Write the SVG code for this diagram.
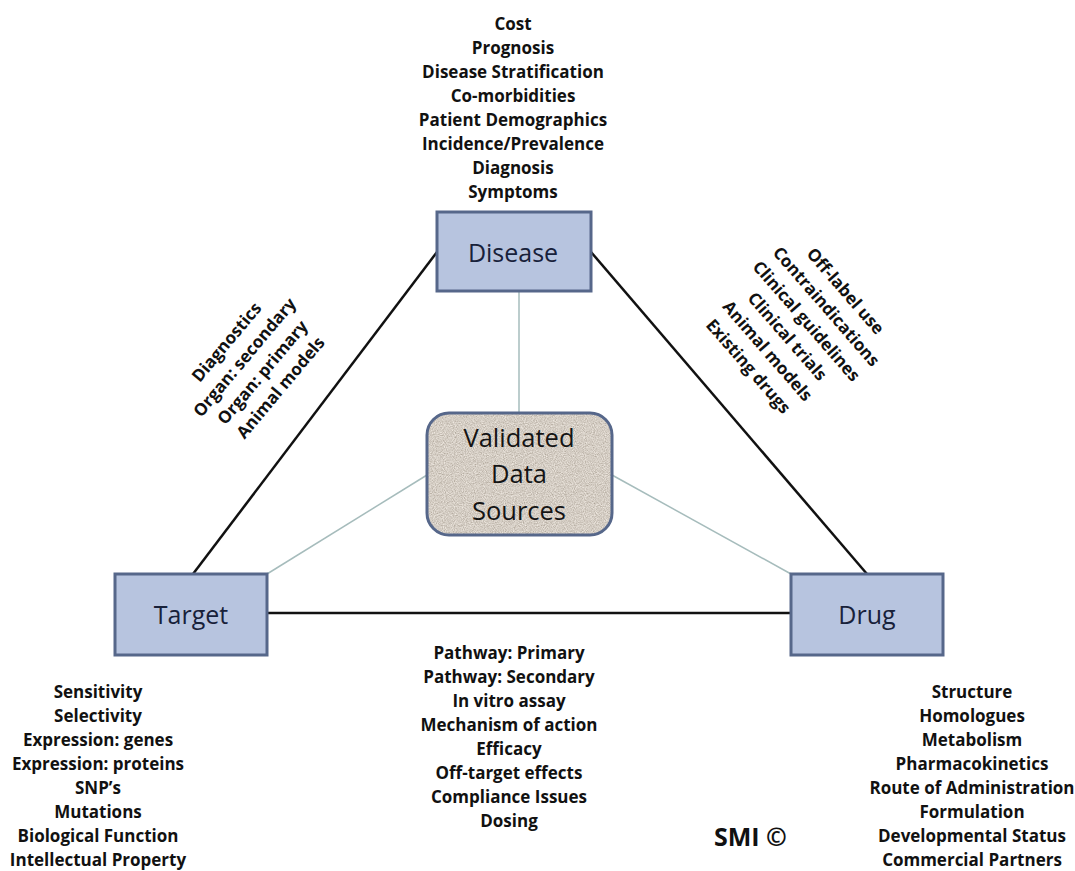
<svg xmlns="http://www.w3.org/2000/svg" width="1075" height="871" viewBox="0 0 1075 871">
<style>
.box{fill:#b7c4df;stroke:#56678a;stroke-width:3}
.lbl{font-family:"Open Sans","Liberation Sans",sans-serif;font-size:25px;fill:#18213a;text-anchor:middle}
.vlbl{font-family:"Open Sans","Liberation Sans",sans-serif;font-size:25.5px;fill:#141414;text-anchor:middle}
.t{font-family:"Open Sans","Liberation Sans",sans-serif;font-size:17px;font-weight:bold;fill:#111111;text-anchor:middle}
.main{stroke:#111;stroke-width:2.5;fill:none}
.thin{stroke:#a6bcbc;stroke-width:1.5;fill:none}
</style>
<defs>
<filter id="granite" x="0" y="0" width="100%" height="100%">
<feTurbulence type="fractalNoise" baseFrequency="0.9" numOctaves="2" seed="7" result="n"/>
<feColorMatrix in="n" type="matrix" values="0.6 0 0 0 0.36  0.6 0 0 0 0.31  0.6 0 0 0 0.25  0 0 0 0 1" result="c"/>
<feComposite in="c" in2="SourceGraphic" operator="in"/>
</filter>
</defs>
<rect width="1075" height="871" fill="#ffffff"/>
<g id="connectors">
<line class="main" x1="437" y1="252" x2="193" y2="574"/>
<line class="main" x1="591" y1="252" x2="867" y2="574"/>
<line class="main" x1="267" y1="613" x2="791" y2="613"/>
<line class="thin" x1="519" y1="292" x2="519" y2="413"/>
<line class="thin" x1="427" y1="475" x2="267" y2="574"/>
<line class="thin" x1="612" y1="475" x2="791" y2="574"/>
</g>
<g id="edge-labels">
<g transform="translate(231,346) rotate(-50)">
<text class="t" x="0" y="0">Diagnostics</text>
<text class="t" x="0" y="23.5">Organ: secondary</text>
<text class="t" x="0" y="47">Organ: primary</text>
<text class="t" x="0" y="70.5">Animal models</text>
</g>
<g transform="translate(841,295) rotate(49)">
<text class="t" x="0" y="0">Off-label use</text>
<text class="t" x="-1" y="24.5">Contraindications</text>
<text class="t" x="-3" y="49">Clinical guidelines</text>
<text class="t" x="-4" y="73.5">Clinical trials</text>
<text class="t" x="-6" y="98">Animal models</text>
<text class="t" x="-7" y="122.5">Existing drugs</text>
</g>
<g id="target-drug-label">
<text class="t" x="509" y="659">Pathway: Primary</text>
<text class="t" x="509" y="683">Pathway: Secondary</text>
<text class="t" x="509" y="707">In vitro assay</text>
<text class="t" x="509" y="731">Mechanism of action</text>
<text class="t" x="509" y="755">Efficacy</text>
<text class="t" x="509" y="779">Off-target effects</text>
<text class="t" x="509" y="803">Compliance Issues</text>
<text class="t" x="509" y="827">Dosing</text>
</g>
</g>
<g id="disease">
<rect class="box" x="437" y="212" width="154" height="79"/>
<text class="lbl" x="513" y="262">Disease</text>
<g>
<text class="t" x="513" y="30">Cost</text>
<text class="t" x="513" y="54">Prognosis</text>
<text class="t" x="513" y="78">Disease Stratification</text>
<text class="t" x="513" y="102">Co-morbidities</text>
<text class="t" x="513" y="126">Patient Demographics</text>
<text class="t" x="513" y="150">Incidence/Prevalence</text>
<text class="t" x="513" y="174">Diagnosis</text>
<text class="t" x="513" y="198">Symptoms</text>
</g>
</g>
<g id="validated">
<rect x="427" y="413" width="185" height="122" rx="22" fill="#a89c8c" filter="url(#granite)"/>
<rect x="427" y="413" width="185" height="122" rx="22" fill="none" stroke="#56678a" stroke-width="3"/>
<text class="vlbl" x="519" y="447">Validated</text>
<text class="vlbl" x="519" y="483">Data</text>
<text class="vlbl" x="519" y="520">Sources</text>
</g>
<g id="target">
<rect class="box" x="115" y="574" width="152" height="81"/>
<text class="lbl" x="191" y="624">Target</text>
<g>
<text class="t" x="98" y="698">Sensitivity</text>
<text class="t" x="98" y="722">Selectivity</text>
<text class="t" x="98" y="746">Expression: genes</text>
<text class="t" x="98" y="770">Expression: proteins</text>
<text class="t" x="98" y="794">SNP’s</text>
<text class="t" x="98" y="818">Mutations</text>
<text class="t" x="98" y="842">Biological Function</text>
<text class="t" x="98" y="866">Intellectual Property</text>
</g>
</g>
<g id="drug">
<rect class="box" x="791" y="574" width="152" height="81"/>
<text class="lbl" x="867" y="624">Drug</text>
<g>
<text class="t" x="972" y="698">Structure</text>
<text class="t" x="972" y="722">Homologues</text>
<text class="t" x="972" y="746">Metabolism</text>
<text class="t" x="972" y="770">Pharmacokinetics</text>
<text class="t" x="972" y="794">Route of Administration</text>
<text class="t" x="972" y="818">Formulation</text>
<text class="t" x="972" y="842">Developmental Status</text>
<text class="t" x="972" y="866">Commercial Partners</text>
</g>
</g>
<text id="copyright" x="714" y="846" font-family="'Open Sans','Liberation Sans',sans-serif" font-size="25" font-weight="bold" fill="#111111">SMI ©</text>
</svg>
